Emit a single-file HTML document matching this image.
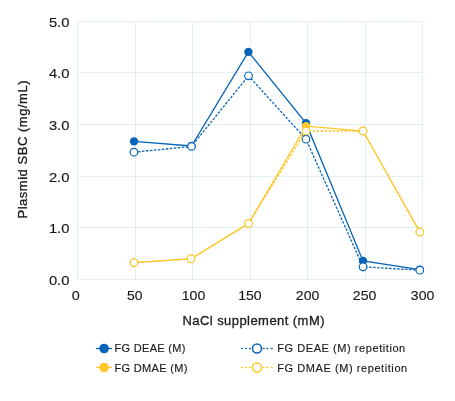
<!DOCTYPE html>
<html><head><meta charset="utf-8"><style>
html,body{margin:0;padding:0;background:#fff;width:455px;height:401px;overflow:hidden;}
svg{display:block;will-change:transform;}
</style></head><body>
<svg width="455" height="401" viewBox="0 0 455 401">
<rect width="455" height="401" fill="#fff"/>
<line x1="77.5" y1="21" x2="77.5" y2="280" stroke="#e0f0f5" stroke-width="1"/>
<line x1="135.5" y1="21" x2="135.5" y2="280" stroke="#e0f0f5" stroke-width="1"/>
<line x1="192.5" y1="21" x2="192.5" y2="280" stroke="#e0f0f5" stroke-width="1"/>
<line x1="250.5" y1="21" x2="250.5" y2="280" stroke="#e0f0f5" stroke-width="1"/>
<line x1="307.5" y1="21" x2="307.5" y2="280" stroke="#e0f0f5" stroke-width="1"/>
<line x1="365.5" y1="21" x2="365.5" y2="280" stroke="#e0f0f5" stroke-width="1"/>
<line x1="422.5" y1="21" x2="422.5" y2="280" stroke="#e0f0f5" stroke-width="1"/>
<line x1="77" y1="21.5" x2="423" y2="21.5" stroke="#e0f0f5" stroke-width="1"/>
<line x1="77" y1="72.5" x2="423" y2="72.5" stroke="#e0f0f5" stroke-width="1"/>
<line x1="77" y1="124.5" x2="423" y2="124.5" stroke="#e0f0f5" stroke-width="1"/>
<line x1="77" y1="176.5" x2="423" y2="176.5" stroke="#e0f0f5" stroke-width="1"/>
<line x1="77" y1="227.5" x2="423" y2="227.5" stroke="#e0f0f5" stroke-width="1"/>
<line x1="77" y1="279.5" x2="423" y2="279.5" stroke="#e0f0f5" stroke-width="1"/>
<polyline points="134,141.4 191.5,146.0 248.4,51.9 306,123.2 363,261 419.8,269.6" fill="none" stroke="#0763b6" stroke-width="1.3"/>
<circle cx="134" cy="141.4" r="4.2" fill="#0763b6"/>
<circle cx="191.5" cy="146.0" r="4.2" fill="#0763b6"/>
<circle cx="248.4" cy="51.9" r="4.2" fill="#0763b6"/>
<circle cx="306" cy="123.2" r="4.2" fill="#0763b6"/>
<circle cx="363" cy="261" r="4.2" fill="#0763b6"/>
<circle cx="419.8" cy="269.6" r="4.2" fill="#0763b6"/>
<polyline points="134,152.2 191.5,146.4 248.5,75.8 306,139.2 363,266.8 419.8,270.2" fill="none" stroke="#0763b6" stroke-width="1.3" stroke-dasharray="2.5,1.5"/>
<circle cx="134" cy="152.2" r="3.8" fill="#fff" stroke="#0763b6" stroke-width="1.2"/>
<circle cx="191.5" cy="146.4" r="3.8" fill="#fff" stroke="#0763b6" stroke-width="1.2"/>
<circle cx="248.5" cy="75.8" r="3.8" fill="#fff" stroke="#0763b6" stroke-width="1.2"/>
<circle cx="306" cy="139.2" r="3.8" fill="#fff" stroke="#0763b6" stroke-width="1.2"/>
<circle cx="363" cy="266.8" r="3.8" fill="#fff" stroke="#0763b6" stroke-width="1.2"/>
<circle cx="419.8" cy="270.2" r="3.8" fill="#fff" stroke="#0763b6" stroke-width="1.2"/>
<polyline points="134,262.6 191,258.8 248.5,223.5 306,126.2 363,131 419.8,232" fill="none" stroke="#fec72a" stroke-width="1.3"/>
<circle cx="134" cy="262.6" r="4.2" fill="#fec72a"/>
<circle cx="191" cy="258.8" r="4.2" fill="#fec72a"/>
<circle cx="248.5" cy="223.5" r="4.2" fill="#fec72a"/>
<circle cx="306" cy="126.2" r="4.2" fill="#fec72a"/>
<circle cx="363" cy="131" r="4.2" fill="#fec72a"/>
<circle cx="419.8" cy="232" r="4.2" fill="#fec72a"/>
<polyline points="134,262.6 191,258.8 248.5,223.5 306,131.0 363,131 419.8,232" fill="none" stroke="#fec72a" stroke-width="1.3" stroke-dasharray="2.5,1.5"/>
<circle cx="134" cy="262.6" r="3.8" fill="#fff" stroke="#fec72a" stroke-width="1.2"/>
<circle cx="191" cy="258.8" r="3.8" fill="#fff" stroke="#fec72a" stroke-width="1.2"/>
<circle cx="248.5" cy="223.5" r="3.8" fill="#fff" stroke="#fec72a" stroke-width="1.2"/>
<circle cx="306" cy="131.0" r="3.8" fill="#fff" stroke="#fec72a" stroke-width="1.2"/>
<circle cx="363" cy="131" r="3.8" fill="#fff" stroke="#fec72a" stroke-width="1.2"/>
<circle cx="419.8" cy="232" r="3.8" fill="#fff" stroke="#fec72a" stroke-width="1.2"/>
<text x="69.4" y="27.0" font-family="Liberation Sans, sans-serif" stroke="#1a1a1a" stroke-width="0.15" font-size="13.5" fill="#1a1a1a" text-anchor="end" textLength="20.5" lengthAdjust="spacingAndGlyphs">5.0</text>
<text x="69.4" y="78.4" font-family="Liberation Sans, sans-serif" stroke="#1a1a1a" stroke-width="0.15" font-size="13.5" fill="#1a1a1a" text-anchor="end" textLength="20.5" lengthAdjust="spacingAndGlyphs">4.0</text>
<text x="69.4" y="130.0" font-family="Liberation Sans, sans-serif" stroke="#1a1a1a" stroke-width="0.15" font-size="13.5" fill="#1a1a1a" text-anchor="end" textLength="20.5" lengthAdjust="spacingAndGlyphs">3.0</text>
<text x="69.4" y="181.6" font-family="Liberation Sans, sans-serif" stroke="#1a1a1a" stroke-width="0.15" font-size="13.5" fill="#1a1a1a" text-anchor="end" textLength="20.5" lengthAdjust="spacingAndGlyphs">2.0</text>
<text x="69.4" y="233.2" font-family="Liberation Sans, sans-serif" stroke="#1a1a1a" stroke-width="0.15" font-size="13.5" fill="#1a1a1a" text-anchor="end" textLength="20.5" lengthAdjust="spacingAndGlyphs">1.0</text>
<text x="69.4" y="284.6" font-family="Liberation Sans, sans-serif" stroke="#1a1a1a" stroke-width="0.15" font-size="13.5" fill="#1a1a1a" text-anchor="end" textLength="20.5" lengthAdjust="spacingAndGlyphs">0.0</text>
<text x="75.7" y="300.2" font-family="Liberation Sans, sans-serif" stroke="#1a1a1a" stroke-width="0.15" font-size="13.5" fill="#1a1a1a" text-anchor="middle" textLength="8" lengthAdjust="spacingAndGlyphs">0</text>
<text x="134.7" y="300.2" font-family="Liberation Sans, sans-serif" stroke="#1a1a1a" stroke-width="0.15" font-size="13.5" fill="#1a1a1a" text-anchor="middle" textLength="15.5" lengthAdjust="spacingAndGlyphs">50</text>
<text x="193.5" y="300.2" font-family="Liberation Sans, sans-serif" stroke="#1a1a1a" stroke-width="0.15" font-size="13.5" fill="#1a1a1a" text-anchor="middle" textLength="23.5" lengthAdjust="spacingAndGlyphs">100</text>
<text x="249.9" y="300.2" font-family="Liberation Sans, sans-serif" stroke="#1a1a1a" stroke-width="0.15" font-size="13.5" fill="#1a1a1a" text-anchor="middle" textLength="23.5" lengthAdjust="spacingAndGlyphs">150</text>
<text x="307.6" y="300.2" font-family="Liberation Sans, sans-serif" stroke="#1a1a1a" stroke-width="0.15" font-size="13.5" fill="#1a1a1a" text-anchor="middle" textLength="23.5" lengthAdjust="spacingAndGlyphs">200</text>
<text x="364.6" y="300.2" font-family="Liberation Sans, sans-serif" stroke="#1a1a1a" stroke-width="0.15" font-size="13.5" fill="#1a1a1a" text-anchor="middle" textLength="23.5" lengthAdjust="spacingAndGlyphs">250</text>
<text x="422.6" y="300.2" font-family="Liberation Sans, sans-serif" stroke="#1a1a1a" stroke-width="0.15" font-size="13.5" fill="#1a1a1a" text-anchor="middle" textLength="23.5" lengthAdjust="spacingAndGlyphs">300</text>
<text x="182.5" y="324.7" font-family="Liberation Sans, sans-serif" stroke="#1a1a1a" stroke-width="0.3" font-size="13" fill="#1a1a1a" textLength="142" lengthAdjust="spacing">NaCl supplement (mM)</text>
<text transform="translate(26.8,218.5) rotate(-90)" x="0" y="0" font-family="Liberation Sans, sans-serif" stroke="#1a1a1a" stroke-width="0.3" font-size="13" fill="#1a1a1a" textLength="138" lengthAdjust="spacing">Plasmid SBC (mg/mL)</text>
<line x1="96" y1="348.5" x2="112" y2="348.5" stroke="#0763b6" stroke-width="1.3"/>
<circle cx="104.1" cy="348.5" r="4.8" fill="#0763b6"/>
<line x1="96" y1="367.5" x2="112" y2="367.5" stroke="#fec72a" stroke-width="1.3"/>
<circle cx="104.1" cy="367.5" r="4.8" fill="#fec72a"/>
<rect x="241.1" y="347.85" width="2.0" height="1.3" fill="#0763b6"/>
<rect x="245.1" y="347.85" width="2.0" height="1.3" fill="#0763b6"/>
<rect x="248.9" y="347.85" width="2.0999999999999943" height="1.3" fill="#0763b6"/>
<rect x="262.7" y="347.85" width="2.0" height="1.3" fill="#0763b6"/>
<rect x="266.3" y="347.85" width="2.0" height="1.3" fill="#0763b6"/>
<rect x="270.6" y="347.85" width="2.099999999999966" height="1.3" fill="#0763b6"/>
<circle cx="257" cy="348.5" r="4.5" fill="#fff" stroke="#0763b6" stroke-width="1.5"/>
<rect x="241.1" y="366.85" width="2.0" height="1.3" fill="#fec72a"/>
<rect x="245.1" y="366.85" width="2.0" height="1.3" fill="#fec72a"/>
<rect x="248.9" y="366.85" width="2.0999999999999943" height="1.3" fill="#fec72a"/>
<rect x="262.7" y="366.85" width="2.0" height="1.3" fill="#fec72a"/>
<rect x="266.3" y="366.85" width="2.0" height="1.3" fill="#fec72a"/>
<rect x="270.6" y="366.85" width="2.099999999999966" height="1.3" fill="#fec72a"/>
<circle cx="257" cy="367.5" r="4.5" fill="#fff" stroke="#fec72a" stroke-width="1.5"/>
<text x="114.5" y="352.2" font-family="Liberation Sans, sans-serif" stroke="#1a1a1a" stroke-width="0.15" font-size="11" fill="#1a1a1a" textLength="71" lengthAdjust="spacing">FG DEAE (M)</text>
<text x="114.5" y="371.8" font-family="Liberation Sans, sans-serif" stroke="#1a1a1a" stroke-width="0.15" font-size="11" fill="#1a1a1a" textLength="73" lengthAdjust="spacing">FG DMAE (M)</text>
<text x="277.2" y="352.2" font-family="Liberation Sans, sans-serif" stroke="#1a1a1a" stroke-width="0.15" font-size="11" fill="#1a1a1a" textLength="128" lengthAdjust="spacing">FG DEAE (M) repetition</text>
<text x="277.2" y="371.8" font-family="Liberation Sans, sans-serif" stroke="#1a1a1a" stroke-width="0.15" font-size="11" fill="#1a1a1a" textLength="130" lengthAdjust="spacing">FG DMAE (M) repetition</text>
</svg></body></html>
